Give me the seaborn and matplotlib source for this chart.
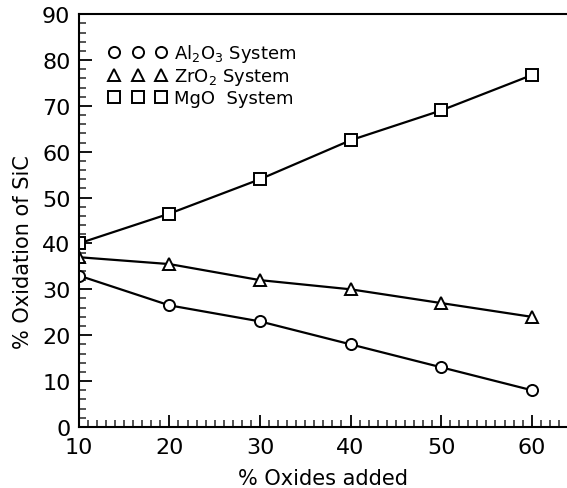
import matplotlib
matplotlib.use("Agg")
import matplotlib.pyplot as plt
from matplotlib.lines import Line2D
from matplotlib.ticker import MultipleLocator
import pandas as pd
import seaborn as sns

# Oxide additions (%) and resulting SiC oxidation (%) for each additive system
oxide_added = [10, 20, 30, 40, 50, 60]
al2o3_oxidation = [33.0, 26.5, 23.0, 18.0, 13.0, 8.0]
zro2_oxidation = [37.0, 35.5, 32.0, 30.0, 27.0, 24.0]
mgo_oxidation = [40.0, 46.5, 54.0, 62.5, 69.0, 76.7]

systems = ["Al$_2$O$_3$ System", "ZrO$_2$ System", "MgO  System"]
markers = ["o", "^", "s"]

df = pd.concat([
    pd.DataFrame({"added": oxide_added, "oxidation": vals, "system": name})
    for name, vals in zip(systems, [al2o3_oxidation, zro2_oxidation, mgo_oxidation])
], ignore_index=True)

sns.set_theme(style="ticks")
plt.rcParams["font.family"] = ["DejaVu Sans"]
plt.rcParams["mathtext.default"] = "regular"
plt.rcParams["text.color"] = "black"
plt.rcParams["axes.labelcolor"] = "black"

fig = plt.figure(figsize=(5.67, 4.89), dpi=100)
ax = fig.add_axes([0.139, 0.125, 0.861, 0.844])

sns.lineplot(
    data=df, x="added", y="oxidation", style="system",
    markers=dict(zip(systems, markers)), dashes=False, color="black",
    linewidth=1.6, markersize=8, markerfacecolor="white",
    markeredgecolor="black", markeredgewidth=1.4, legend=False, ax=ax,
)

ax.set_xlim(10, 63.9)
ax.set_ylim(0, 90)
ax.xaxis.set_major_locator(MultipleLocator(10))
ax.xaxis.set_minor_locator(MultipleLocator(1))
ax.yaxis.set_major_locator(MultipleLocator(10))
ax.yaxis.set_minor_locator(MultipleLocator(2))
ax.tick_params(which="major", direction="in", length=9, width=1.3,
               labelsize=16, colors="black")
ax.tick_params(which="minor", direction="in", length=5, width=1.1)
ax.tick_params(axis="x", which="major", pad=7)
ax.tick_params(axis="y", which="major", pad=6)

for side in ["left", "bottom", "top"]:
    ax.spines[side].set_linewidth(1.5)
    ax.spines[side].set_color("black")
ax.spines["right"].set_visible(False)

ax.set_xlabel("% Oxides added", fontsize=15, labelpad=8)
ax.set_ylabel("% Oxidation of SiC", fontsize=15)
ax.yaxis.set_label_coords(-0.094, 0.426)

handles = [
    Line2D([], [], linestyle="none", marker=m, markersize=8,
           markerfacecolor="white", markeredgecolor="black", markeredgewidth=1.4)
    for m in markers
]
ax.legend(handles, systems, numpoints=3, frameon=False, fontsize=13,
          loc="upper left", bbox_to_anchor=(0.028, 0.972),
          handlelength=3.2, handletextpad=0.4, labelspacing=0.12)

fig.savefig("out.png", dpi=100)
